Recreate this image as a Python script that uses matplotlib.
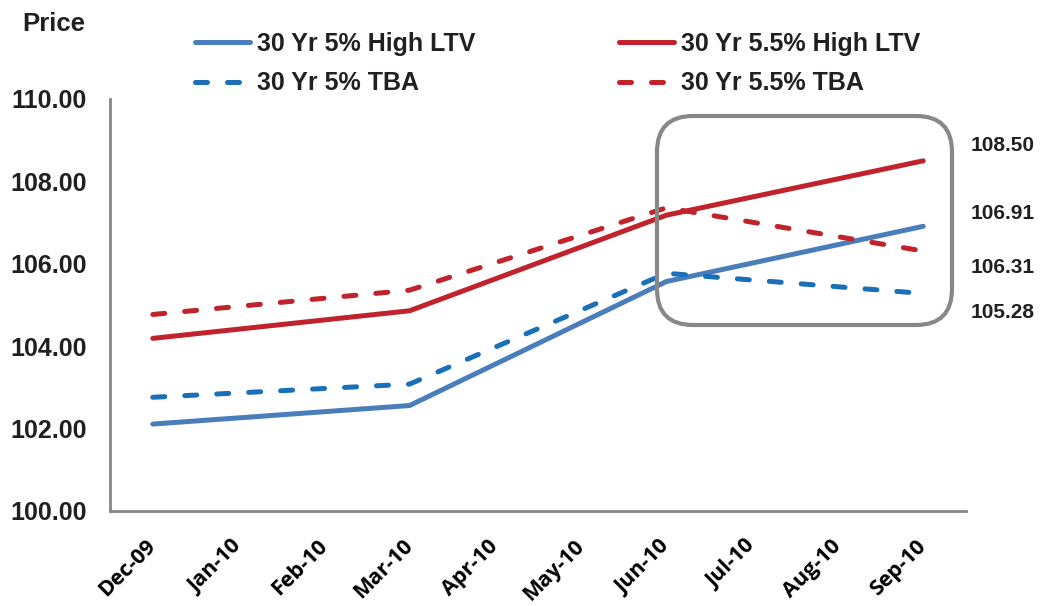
import matplotlib
matplotlib.use("Agg")
import matplotlib.pyplot as plt
from matplotlib.patches import FancyBboxPatch

months = ["Dec-09", "Jan-10", "Feb-10", "Mar-10", "Apr-10",
          "May-10", "Jun-10", "Jul-10", "Aug-10", "Sep-10"]
obs_months = ["Dec-09", "Mar-10", "Jun-10", "Sep-10"]

hltv_5 = [102.11, 102.56, 105.57, 106.91]
hltv_55 = [104.19, 104.86, 107.18, 108.50]
tba_5 = [102.76, 103.08, 105.77, 105.28]
tba_55 = [104.77, 105.36, 107.36, 106.31]

yticks = [100, 102, 104, 106, 108, 110]

BLUE = "#4a7ebb"
BLUE_D = "#1a70b8"
RED = "#c0232b"
GREY = "#888888"
TXT = "#231f20"

plt.rcParams["font.family"] = ["Liberation Sans", "DejaVu Sans"]
plt.rcParams["font.weight"] = "bold"

fig = plt.figure(figsize=(10.4, 6.06), dpi=100)
ax = fig.add_axes([110 / 1040, 1 - 511 / 606, 856 / 1040, 412 / 606])

xpos = [months.index(m) for m in obs_months]
lw = 3.6
series = [
    ("30 Yr 5% High LTV", hltv_5, BLUE, "-"),
    ("30 Yr 5% TBA", tba_5, BLUE_D, "--"),
    ("30 Yr 5.5% High LTV", hltv_55, RED, "-"),
    ("30 Yr 5.5% TBA", tba_55, RED, "--"),
]
handles = []
for label, vals, col, ls in series:
    if ls == "-":
        h, = ax.plot(xpos, vals, color=col, lw=lw, solid_capstyle="round",
                     solid_joinstyle="miter", label=label, clip_on=False)
    else:
        h, = ax.plot(xpos, vals, color=col, lw=lw, dashes=(2.4, 4.0),
                     dash_capstyle="round", label=label, clip_on=False)
    handles.append(h)

ax.set_xlim(-0.5, len(months) - 0.5)
ax.set_ylim(100, 110)
ax.set_yticks(yticks)
ax.set_yticklabels([f"{v:.2f}" for v in yticks], fontsize=18, color=TXT,
                   fontweight="bold")
ax.set_xticks(range(len(months)))
ax.set_xticklabels(months, rotation=45, ha="right", va="center",
                   rotation_mode="anchor", fontsize=15.5, color="black",
                   fontfamily="Open Sans", fontweight="bold")
ax.tick_params(axis="y", length=0, pad=17)
ax.tick_params(axis="x", length=0, pad=23)
for s in ["top", "right"]:
    ax.spines[s].set_visible(False)
for s in ["left", "bottom"]:
    ax.spines[s].set_color(GREY)
    ax.spines[s].set_linewidth(2.0)

# value labels for the latest month
last = len(months) - 1
offsets = {"30 Yr 5.5% High LTV": -15, "30 Yr 5% High LTV": -13,
           "30 Yr 5.5% TBA": 16, "30 Yr 5% TBA": 19}
for label, vals, col, ls in series:
    ax.annotate(f"{vals[-1]:.2f}", xy=(last, vals[-1]),
                xytext=(47, -offsets[label]), textcoords="offset pixels",
                ha="left", va="center", fontsize=15, color=TXT,
                fontweight="bold", annotation_clip=False)

# highlight box around the recent months
box = FancyBboxPatch((6.57, (606 - 325) / 100), 2.95, 2.09,
                     boxstyle="round,pad=0,rounding_size=0.36",
                     transform=fig.dpi_scale_trans, fill=False,
                     edgecolor=GREY, linewidth=3.0)
fig.patches.append(box)

fig.text(22 / 1040, 1 - 24 / 606, "Price", fontsize=18.5, color=TXT,
         fontweight="bold", ha="left", va="center")

leg = fig.legend(handles=handles, loc="upper left",
                 bbox_to_anchor=(195 / 1040, 1 - 32 / 606), ncol=2,
                 frameon=False, fontsize=18, handlelength=2.2,
                 handletextpad=0.28, columnspacing=5.75, labelspacing=0.62,
                 borderpad=0, borderaxespad=0)
for t in leg.get_texts():
    t.set_color(TXT)
    t.set_fontweight("bold")

fig.savefig("out.png", dpi=100)
